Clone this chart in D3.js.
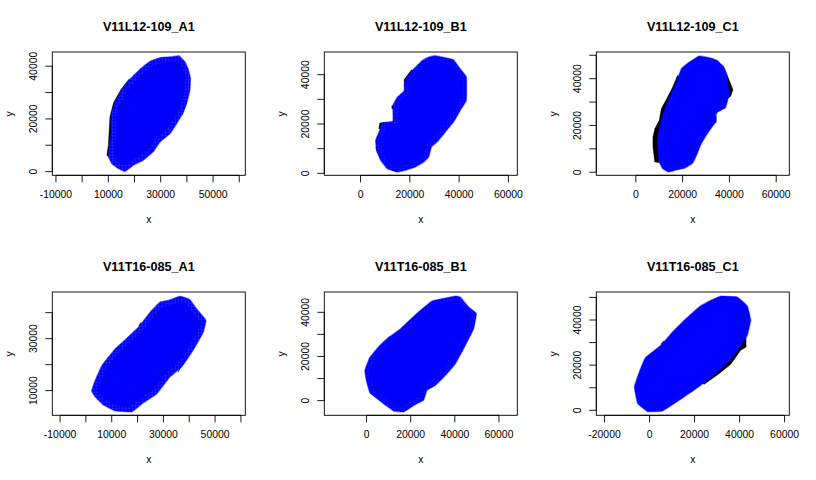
<!DOCTYPE html>
<html><head><meta charset="utf-8">
<script src="https://cdn.jsdelivr.net/npm/d3@7"></script>
<style>html,body{margin:0;padding:0;background:#fff}svg{display:block}text{font-family:"Liberation Sans",Arial,sans-serif;fill:#000}</style>
</head><body><svg id="c" width="816" height="480"></svg>
<script>
const titles=["V11L12-109_A1","V11L12-109_B1","V11L12-109_C1","V11T16-085_A1","V11T16-085_B1","V11T16-085_C1"];
const xDomains=[[-11400,62300],[-14700,63600],[-16900,65600],[-13000,61700],[-19150,68300],[-23660,62100]];
const yDomains=[[-1400,45400],[-800,49200],[-1300,51400],[512,47950],[-6640,49200],[-2200,52400]];
const xA=[-10000,0,10000,20000,30000,40000,50000,60000];
const x0=[0,20000,40000,60000];
const xN=[-20000,0,20000,40000,60000];
const xTicks=[xA,x0,x0,xA,x0,xN];
const xLabels=[[-10000,10000,30000,50000],x0,x0,[-10000,10000,30000,50000],x0,xN];
const yTicks=[[0,10000,20000,30000,40000],[0,10000,20000,30000,40000],[0,10000,20000,30000,40000,50000],[10000,20000,30000,40000],[0,10000,20000,30000,40000],[0,10000,20000,30000,40000,50000]];
const yLabels=[[0,20000,40000],[0,20000,40000],[0,20000,40000],[10000,30000],[0,20000,40000],[0,20000,40000]];

const blueA=[[37000,44000],[39300,41650],[40500,39100],[41400,35300],[41200,30900],[39900,25800],[38400,22000],[36100,18200],[33600,14400],[29800,11300],[27200,7500],[23400,4300],[19600,2400],[16400,0],[13900,1100],[11300,3000],[10100,5600],[10400,10000],[11000,14400],[11000,20800],[12400,26200],[15200,31300],[18100,35000],[22100,38900],[25900,41900],[29800,43300],[33600,43600]];
const blackA=[[[9400,6200],[10000,10000],[10600,20800],[12000,26200],[14900,31300],[17800,35000],[18800,35000],[16000,30000],[13000,25000],[11500,14400],[10400,5300]],[[39900,26200],[38200,21600],[37400,21600],[39000,26200]]];
const blueB=[[30400,47700],[34500,46900],[37800,46100],[40500,42400],[43000,39000],[43000,29600],[40500,25500],[37800,20800],[34500,16800],[31100,12700],[28800,10700],[27700,6600],[25700,4600],[22300,2600],[18200,1200],[14900,500],[10800,1900],[8100,5300],[6500,9300],[6100,13400],[7700,17400],[8800,20400],[13100,21200],[13100,27600],[14900,30900],[17600,33400],[18000,37700],[20900,41700],[25000,45800],[27700,47200]];
const blackB=[[[7400,18100],[7800,20400],[10800,20800],[10800,18100]],[[12700,26200],[12700,27400],[14000,27400],[14000,26200]],[[17700,35000],[17700,38000],[20700,42000],[21600,41100],[18900,35000]],[[6200,10700],[6800,8200],[8100,8200],[8100,10700]]];
const blueC=[[27000,49700],[31300,49000],[34800,47800],[37700,45000],[39100,41400],[39500,36400],[39800,32900],[38400,27600],[35100,25800],[34100,24300],[34100,21500],[30600,16500],[28000,12200],[26000,7300],[24200,3700],[20600,1600],[17100,900],[13900,100],[11400,1600],[10000,4400],[9500,9400],[9200,13700],[10000,18600],[11400,24300],[13800,30700],[16000,35700],[17800,40000],[19500,44300],[22800,47100]];
const blackC=[[[17800,41400],[15600,36100],[12800,30700],[10900,27200],[10000,22200],[8100,18600],[7300,15100],[7300,10800],[8100,4400],[10200,4100],[13500,16500],[19200,30700],[19200,40000]],[[39100,41400],[40500,37900],[41500,35300],[40500,32400],[39100,31400],[37700,36400]],[[34400,24300],[34400,21500],[33400,20500],[32000,21500]]];
const blueD=[[36500,46400],[40300,45000],[42900,41500],[46500,37100],[45500,32600],[42300,26800],[39000,21700],[37100,19100],[32600,15300],[27500,8800],[22300,5300],[17800,1800],[11400,2200],[6900,4400],[3600,7600],[2200,9900],[3600,14000],[6200,19700],[11400,26200],[15200,29600],[20400,34500],[24900,40300],[28700,44100],[32600,45000]];
const blackD=[[[35700,17000],[37400,20600],[36500,20500],[36200,18500]],[[20400,34800],[21300,36200],[21800,35500]]];
const blueE=[[40300,47400],[42500,46900],[46300,42400],[49800,39400],[48600,32600],[44800,25000],[40300,16700],[36500,12200],[31200,6900],[27400,4700],[25900,200],[22200,-1700],[16900,-5100],[12400,-4800],[8600,-2100],[4800,900],[1500,3500],[0,8500],[-800,13700],[1400,19500],[5600,24600],[10100,28800],[15400,32600],[20700,37600],[25200,41600],[29400,45000],[34200,46200]];
const blackE=[];
const blueF=[[31700,50600],[39000,50200],[43500,46200],[45000,39900],[43500,33200],[42400,31700],[37600,24400],[31700,18400],[22800,11100],[15400,5900],[5800,-300],[-900,-600],[-5300,3000],[-6800,10300],[-4600,17000],[-1900,23300],[5000,28800],[10200,34700],[15400,39900],[22000,45800],[27200,48700]];
const blackF=[[[42900,32500],[42900,28000],[40500,26600],[36100,20400],[30900,16200],[24300,11500],[22800,12500],[31700,20700],[40500,31000]],[[5000,29200],[6200,30700],[7200,30300]]];
const blues=[blueA,blueB,blueC,blueD,blueE,blueF];
const blacks=[blackA,blackB,blackC,blackD,blackE,blackF];
const textureLight=[.3,.15,.06,.3,.12,.03];
const textureDark=[.22,.06,.02,.22,.1,.01];

const svg=d3.select("#c");
const defs=svg.append("defs");
const pl=defs.append("pattern").attr("id","gl").attr("width",3.3).attr("height",3.3).attr("patternUnits","userSpaceOnUse");
pl.append("path").attr("d","M0 0H3.3M0 0V3.3").attr("stroke","#9a9aff").attr("stroke-width",1).attr("fill","none");
const pd=defs.append("pattern").attr("id","gd").attr("width",3.3).attr("height",3.3).attr("patternUnits","userSpaceOnUse");
pd.append("path").attr("d","M0 0H3.3M0 0V3.3").attr("stroke","#0000a0").attr("stroke-width",1).attr("fill","none");

titles.forEach((t,i)=>{
  const ox=(i%3)*272, oy=Math.floor(i/3)*240;
  const L=52.3,R=245.3,T=52,B=175.3;
  const g=svg.append("g").attr("transform",`translate(${ox},${oy})`);
  const x=d3.scaleLinear().domain(xDomains[i]).range([L,R]);
  const y=d3.scaleLinear().domain(yDomains[i]).range([B,T]);
  const linear=d3.line().x(d=>x(d[0])).y(d=>y(d[1])).curve(d3.curveLinearClosed);
  const smooth=d3.line().x(d=>x(d[0])).y(d=>y(d[1])).curve(d3.curveCardinalClosed.tension(.75));
  const outline=smooth(blues[i]);
  g.selectAll("path.k").data(blacks[i]).join("path").attr("class","k").attr("d",linear).attr("fill","#000").attr("stroke","#000").attr("stroke-width",.4);
  g.append("clipPath").attr("id","clip"+i).append("path").attr("d",outline);
  g.append("path").attr("d",outline).attr("fill","#0000ff").attr("stroke","#0000ff").attr("stroke-opacity",.4).attr("stroke-width",1.2).attr("stroke-linejoin","round");
  const tex=g.append("g").attr("clip-path",`url(#clip${i})`);
  tex.append("path").attr("d",outline).attr("fill","url(#gd)").attr("opacity",textureDark[i]);
  tex.append("path").attr("d",outline).attr("fill","none").attr("stroke","url(#gl)").attr("stroke-width",11).attr("opacity",textureLight[i]);
  g.append("rect").attr("x",L).attr("y",T).attr("width",R-L).attr("height",B-T).attr("fill","none").attr("stroke","#000").attr("stroke-width",.9);
  const xt=xTicks[i], yt=yTicks[i];
  g.append("line").attr("x1",x(xt[0])).attr("x2",x(xt[xt.length-1])).attr("y1",B).attr("y2",B).attr("stroke","#000").attr("stroke-width",.9);
  g.selectAll("line.xt").data(xt).join("line").attr("class","xt").attr("x1",d=>x(d)).attr("x2",d=>x(d)).attr("y1",B).attr("y2",B+7).attr("stroke","#000").attr("stroke-width",.9);
  g.selectAll("text.xl").data(xLabels[i]).join("text").attr("class","xl").attr("x",d=>x(d)).attr("y",198).attr("text-anchor","middle").attr("font-size",10.4).text(d=>d);
  g.append("line").attr("x1",L).attr("x2",L).attr("y1",y(yt[0])).attr("y2",y(yt[yt.length-1])).attr("stroke","#000").attr("stroke-width",.9);
  g.selectAll("line.yt").data(yt).join("line").attr("class","yt").attr("y1",d=>y(d)).attr("y2",d=>y(d)).attr("x1",L).attr("x2",L-7).attr("stroke","#000").attr("stroke-width",.9);
  g.selectAll("text.yl").data(yLabels[i]).join("text").attr("class","yl").attr("transform",d=>`translate(36.5,${y(d)}) rotate(-90)`).attr("text-anchor","middle").attr("font-size",10.4).text(d=>d);
  g.append("text").attr("x",148.8).attr("y",223).attr("text-anchor","middle").attr("font-size",10.4).text("x");
  g.append("text").attr("transform","translate(13,114) rotate(-90)").attr("text-anchor","middle").attr("font-size",10.4).text("y");
  g.append("text").attr("x",148.8).attr("y",31).attr("text-anchor","middle").attr("font-size",12.6).attr("font-weight","bold").text(t);
});
</script></body></html>
